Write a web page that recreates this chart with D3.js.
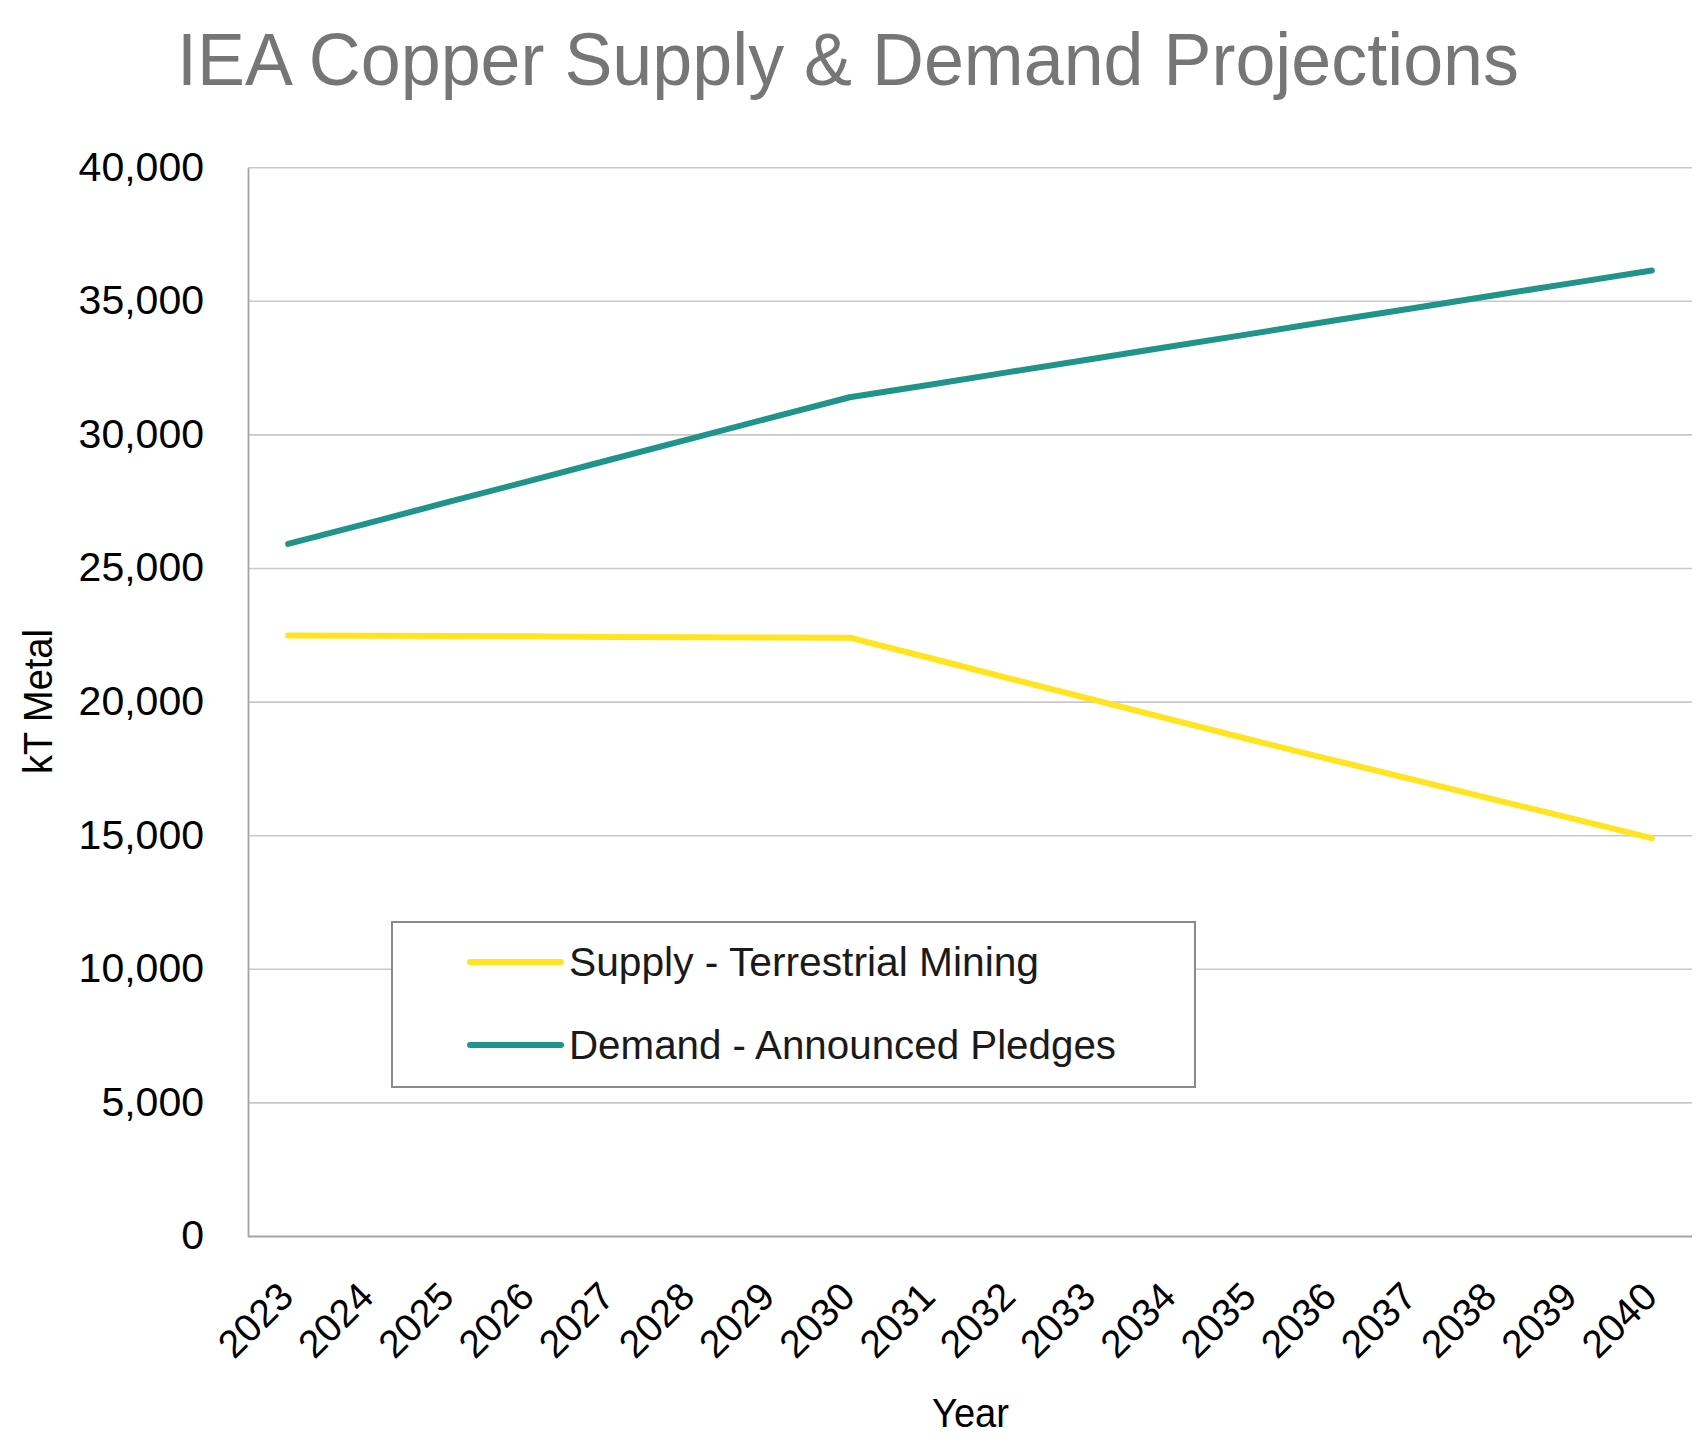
<!DOCTYPE html>
<html>
<head>
<meta charset="utf-8">
<script src="https://cdn.jsdelivr.net/npm/d3@7"></script>
<style>
  html, body { margin: 0; padding: 0; background: #ffffff; }
  svg { display: block; }
</style>
</head>
<body>
<script>
// ---- data ----
const years = ["2023","2024","2025","2026","2027","2028","2029","2030","2031","2032","2033","2034","2035","2036","2037","2038","2039","2040"];
const supplyTerrestrial = [22490,22480,22470,22460,22440,22430,22420,22410,21650,20880,20120,19350,18590,17850,17120,16380,15650,14910];
const demandPledges = [25920,26700,27490,28270,29060,29840,30630,31410,31880,32360,32830,33310,33780,34260,34730,35210,35680,36150];
const yTicks = [0,5000,10000,15000,20000,25000,30000,35000,40000];
const seriesNames = ["Supply - Terrestrial Mining","Demand - Announced Pledges"];
const seriesColors = ["#FFE41F","#20948B"];

const W = 1703, H = 1454;
const plot = {left: 248, right: 1692, top: 167.7, bottom: 1236.5};

const svg = d3.select("body").append("svg").attr("width", W).attr("height", H);

const x = d3.scalePoint().domain(years).range([plot.left, plot.right]).padding(0.5);
const y = d3.scaleLinear().domain([0, 40000]).range([plot.bottom, plot.top]);

const regular = "'Liberation Sans',Arial,sans-serif";

// narrow-looking text: regular sans squeezed to measured width
function narrowText(sel, len) {
  return sel.style("font-family", regular)
    .attr("textLength", len)
    .attr("lengthAdjust", "spacingAndGlyphs");
}

// title
narrowText(svg.append("text")
  .attr("x", 177).attr("y", 85)
  .style("font-size", "74px")
  .attr("fill", "#767676")
  .text("IEA Copper Supply & Demand Projections"), 1342);

// gridlines
svg.append("g").selectAll("line").data(yTicks.filter(d => d > 0)).join("line")
  .attr("x1", plot.left).attr("x2", plot.right)
  .attr("y1", d => y(d)).attr("y2", d => y(d))
  .attr("stroke", "#c9c9c9").attr("stroke-width", 1.6);

// y axis
const yAxis = svg.append("g")
  .attr("transform", `translate(${plot.left},0)`)
  .call(d3.axisLeft(y).tickValues(yTicks).tickSize(0).tickPadding(44).tickFormat(d3.format(",")));
yAxis.select(".domain").attr("stroke", "#a3a3a3").attr("stroke-width", 1.8);
yAxis.selectAll("text")
  .style("font-family", regular)
  .style("font-size", "41px")
  .attr("fill", "#000")
  .attr("dy", "0.3em");

// x axis
const xAxis = svg.append("g")
  .attr("transform", `translate(0,${plot.bottom})`)
  .call(d3.axisBottom(x).tickSize(0).tickFormat(d => d));
xAxis.select(".domain").attr("d", `M${plot.left},0H${plot.right}`).attr("stroke", "#a3a3a3").attr("stroke-width", 2);
xAxis.selectAll("text")
  .style("font-family", regular)
  .style("font-size", "39px")
  .attr("fill", "#000")
  .attr("text-anchor", "end")
  .attr("y", 0).attr("dy", 0)
  .attr("transform", `translate(7,62.5) rotate(-45)`);

// axis titles
narrowText(svg.append("text")
  .attr("x", 932).attr("y", 1427)
  .style("font-size", "40px")
  .attr("fill", "#000")
  .text("Year"), 77);

narrowText(svg.append("text")
  .attr("transform", `translate(52,${(plot.top + plot.bottom) / 2 + 72}) rotate(-90)`)
  .style("font-size", "40px")
  .attr("fill", "#000")
  .text("kT Metal"), 145);

// lines
const line = d3.line().x((d, i) => x(years[i])).y(d => y(d));
[supplyTerrestrial, demandPledges].forEach((vals, k) => {
  svg.append("path")
    .attr("d", line(vals))
    .attr("fill", "none")
    .attr("stroke", seriesColors[k])
    .attr("stroke-width", 6)
    .attr("stroke-linecap", "round")
    .attr("stroke-linejoin", "round");
});

// legend
const lg = svg.append("g");
lg.append("rect")
  .attr("x", 392).attr("y", 922).attr("width", 803).attr("height", 165)
  .attr("fill", "#fff").attr("stroke", "#8a8a8a").attr("stroke-width", 2);
const legendRows = [962, 1045];
const legendLens = [470, 547];
seriesNames.forEach((name, k) => {
  lg.append("line")
    .attr("x1", 470).attr("x2", 561)
    .attr("y1", legendRows[k]).attr("y2", legendRows[k])
    .attr("stroke", seriesColors[k]).attr("stroke-width", 6).attr("stroke-linecap", "round");
  narrowText(lg.append("text")
    .attr("x", 569).attr("y", legendRows[k] + 14)
    .style("font-size", "41px")
    .attr("fill", "#1a1a1a")
    .text(name), legendLens[k]);
});
</script>
</body>
</html>
